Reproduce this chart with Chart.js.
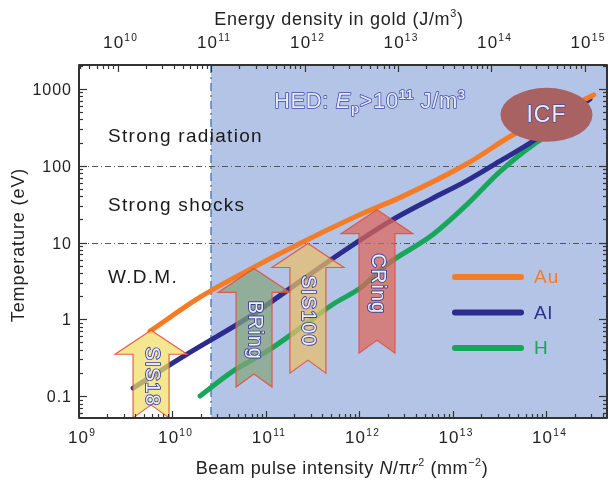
<!DOCTYPE html>
<html>
<head>
<meta charset="utf-8">
<script src="https://cdn.jsdelivr.net/npm/chart.js@4.4.1/dist/chart.umd.min.js"></script>
<style>
  html, body { margin: 0; padding: 0; background: #fff; }
  #wrap { width: 612px; height: 481px; position: relative; }
</style>
</head>
<body>
<div id="wrap"><canvas id="chart"></canvas></div>
<script>
// curves: beam pulse intensity (mm^-2) vs temperature (eV)
const auIntensity = [5.75e9, 1.95e10, 6.8e10, 2.3e11, 1.2e12, 2.71e12, 1.41e13, 4.39e13, 3.2e14];
const auTemp = [0.70, 1.93, 4.5, 9.7, 25.3, 38.4, 106, 253, 836];

const alIntensity = [3.8e9, 1.43e10, 6.75e10, 2.31e11, 6.67e11, 2.2e12, 5.9e12, 1.35e13, 3.1e13, 7.2e13, 2.92e14];
const alTemp = [0.127, 0.351, 1.09, 3.12, 7.64, 19.4, 37, 62, 113, 210, 741];

const hIntensity = [1.97e10, 4.44e10, 1.03e11, 2.31e11, 5.21e11, 1.01e12, 1.97e12, 6.11e12, 1.41e13, 3.18e13, 7.18e13, 1.23e14];
const hTemp = [0.100, 0.211, 0.384, 0.764, 1.57, 2.53, 5.18, 12.7, 31.2, 83.6, 187, 277];

// tick labels
const intensityTicks = [1e9, 1e10, 1e11, 1e12, 1e13, 1e14];
const energyTicks = [1e10, 1e11, 1e12, 1e13, 1e14, 1e15];
const tempTicks = [0.1, 1, 10, 100, 1000];

// regimes
const regimeBounds = [10, 100];            // eV
const regimeNames = ['Strong radiation', 'Strong shocks', 'W.D.M.'];
const hedThreshold = 1e11;                 // J/m^3, top axis

// facilities (arrows)
const facilityNames = ['SIS18', 'BRing', 'SIS100', 'CRing'];
const facilityIntensity = [5.9e9, 7.45e10, 2.81e11, 1.54e12];
const facilityTopTemp = [0.72, 4.6, 9.7, 26.8];
const facilityBottomTemp = [0.052, 0.131, 0.199, 0.362];
const facilityColors = ['rgba(240,222,100,0.72)', 'rgba(133,163,124,0.72)', 'rgba(234,190,106,0.72)', 'rgba(223,101,89,0.72)'];

const icfIntensity = 1.0e14;
const icfTemp = 460;

const FONT = '"Liberation Sans", Arial, sans-serif';

function toPoints(xs, ys) {
    return xs.map(function (x, i) { return { x: x, y: ys[i] }; });
}

// draw a line of text made of runs (normal / italic / bold / sup / sub)
function drawRuns(ctx, runs, x, baseline, size, align, fill, stroke, ls) {
    ctx.letterSpacing = (ls || 0) + 'px';
    const parts = runs.map(function (r) {
        const sz = r.s ? size * 0.6 : size;
        const font = (r.i ? 'italic ' : '') + (r.b ? 'bold ' : '') + sz + 'px ' + FONT;
        ctx.font = font;
        return { t: r.t, font: font, w: ctx.measureText(r.t).width, dy: r.s === 'sup' ? -size * 0.42 : (r.s === 'sub' ? size * 0.22 : 0) };
    });
    const total = parts.reduce(function (a, p) { return a + p.w; }, 0);
    let cx = align === 'center' ? x - total / 2 : (align === 'right' ? x - total : x);
    ctx.textAlign = 'left';
    ctx.textBaseline = 'alphabetic';
    parts.forEach(function (p) {
        ctx.font = p.font;
        if (stroke) {
            ctx.lineWidth = 1.5;
            ctx.strokeStyle = stroke;
            ctx.lineJoin = 'round';
            ctx.strokeText(p.t, cx, baseline + p.dy);
        }
        ctx.fillStyle = fill;
        ctx.fillText(p.t, cx, baseline + p.dy);
        cx += p.w;
    });
    ctx.letterSpacing = '0px';
}

function powRuns(v) {
    return [{ t: '10' }, { t: String(Math.round(Math.log10(v))), s: 'sup' }];
}

function logTicks(min, max) {
    const out = [];
    for (let d = Math.floor(Math.log10(min)); d <= Math.ceil(Math.log10(max)); d++) {
        for (let m = 1; m <= 9; m++) {
            const v = m * Math.pow(10, d);
            if (v >= min * 0.999 && v <= max * 1.001) out.push({ v: v, major: m === 1 });
        }
    }
    return out;
}

const decorPlugin = {
    id: 'decor',
    beforeDatasetsDraw: function (chart) {
        const ctx = chart.ctx;
        const a = chart.chartArea;
        const x2 = chart.scales.x2, y = chart.scales.y;
        ctx.save();
        // HED region
        const hx = x2.getPixelForValue(hedThreshold);
        ctx.fillStyle = '#b3c4e6';
        ctx.fillRect(hx, a.top, a.right - hx, a.bottom - a.top);
        // regime lines
        ctx.strokeStyle = '#555';
        ctx.lineWidth = 1;
        ctx.setLineDash([6, 3, 1, 3]);
        regimeBounds.forEach(function (t) {
            const py = Math.round(y.getPixelForValue(t)) + 0.5;
            ctx.beginPath(); ctx.moveTo(a.left, py); ctx.lineTo(a.right, py); ctx.stroke();
        });
        // HED boundary
        ctx.strokeStyle = '#5a86bb';
        ctx.lineWidth = 1.6;
        ctx.setLineDash([8, 4, 2, 4]);
        ctx.beginPath(); ctx.moveTo(hx, a.top); ctx.lineTo(hx, a.bottom); ctx.stroke();
        ctx.setLineDash([]);
        // regime names
        const lx = a.left + 29;
        drawRuns(ctx, [{ t: regimeNames[0] }], lx, a.top + 77, 19, 'left', '#1a1a1a', null, 1.3);
        drawRuns(ctx, [{ t: regimeNames[1] }], lx, a.top + 146, 19, 'left', '#1a1a1a', null, 1.3);
        drawRuns(ctx, [{ t: regimeNames[2] }], lx, a.top + 218, 19, 'left', '#1a1a1a', null, 1.3);
        ctx.restore();
    },
    afterDatasetsDraw: function (chart) {
        const ctx = chart.ctx;
        const a = chart.chartArea;
        const x = chart.scales.x, x2 = chart.scales.x2, y = chart.scales.y;
        ctx.save();

        // facility arrows
        facilityNames.forEach(function (name, i) {
            const cx = x.getPixelForValue(facilityIntensity[i]);
            const tip = y.getPixelForValue(facilityTopTemp[i]);
            const bot = y.getPixelForValue(facilityBottomTemp[i]);
            const hw = 36, sw = 18, hl = 24, nd = 13;
            const base = tip + hl;
            ctx.beginPath();
            ctx.moveTo(cx, tip);
            ctx.lineTo(cx + hw, base);
            ctx.lineTo(cx + sw, base);
            ctx.lineTo(cx + sw, bot);
            ctx.lineTo(cx, bot - nd);
            ctx.lineTo(cx - sw, bot);
            ctx.lineTo(cx - sw, base);
            ctx.lineTo(cx - hw, base);
            ctx.closePath();
            ctx.fillStyle = facilityColors[i];
            ctx.fill();
            ctx.strokeStyle = 'rgba(228,80,60,0.9)';
            ctx.lineWidth = 1.2;
            ctx.stroke();
            // rotated label
            ctx.save();
            ctx.translate(cx, (base + bot - nd) / 2 - 3);
            ctx.rotate(Math.PI / 2);
            ctx.letterSpacing = '1px';
            ctx.font = '20px ' + FONT;
            ctx.textAlign = 'center';
            ctx.textBaseline = 'middle';
            ctx.lineWidth = 1.8;
            ctx.lineJoin = 'round';
            ctx.strokeStyle = '#3a3f9c';
            ctx.strokeText(name, 0, 0);
            ctx.fillStyle = '#eef0fa';
            ctx.fillText(name, 0, 0);
            ctx.restore();
        });

        // ICF ellipse
        const ex = x.getPixelForValue(icfIntensity), ey = y.getPixelForValue(icfTemp);
        ctx.beginPath();
        ctx.ellipse(ex, ey, 46, 27, 0, 0, Math.PI * 2);
        ctx.fillStyle = 'rgb(168,98,98)';
        ctx.fill();
        ctx.font = '23px ' + FONT;
        ctx.letterSpacing = '1px';
        ctx.textAlign = 'center';
        ctx.textBaseline = 'middle';
        ctx.lineWidth = 1.4;
        ctx.lineJoin = 'round';
        ctx.strokeStyle = '#3e4aa0';
        ctx.strokeText('ICF', ex, ey + 1);
        ctx.fillStyle = '#f1eaf4';
        ctx.fillText('ICF', ex, ey + 1);
        ctx.letterSpacing = '0px';

        // HED label
        drawRuns(ctx, [
            { t: 'HED: ' }, { t: 'E', i: true }, { t: 'p', s: 'sub', b: true },
            { t: '>10' }, { t: '11', s: 'sup', b: true }, { t: ' J/m' }, { t: '3', s: 'sup', b: true }
        ], a.left + 195, a.top + 43, 22, 'left', '#e6ebf8', '#4048a8', 0.6);

        // legend
        chart.data.datasets.forEach(function (ds, i) {
            const ly = a.top + 212 + i * 35.5;
            ctx.strokeStyle = ds.borderColor;
            ctx.lineWidth = 6;
            ctx.lineCap = 'round';
            ctx.beginPath(); ctx.moveTo(a.left + 376, ly); ctx.lineTo(a.left + 442, ly); ctx.stroke();
            ctx.fillStyle = ds.borderColor;
            ctx.font = '19px ' + FONT;
            ctx.letterSpacing = '1px';
            ctx.textAlign = 'left';
            ctx.textBaseline = 'middle';
            ctx.fillText(ds.label, a.left + 455, ly + 1);
            ctx.letterSpacing = '0px';
        });
        ctx.lineCap = 'butt';

        // frame
        ctx.strokeStyle = '#333';
        ctx.lineWidth = 2;
        ctx.strokeRect(a.left, a.top, a.right - a.left, a.bottom - a.top);

        // inward ticks
        ctx.lineWidth = 1.2;
        logTicks(x.min, x.max).forEach(function (t) {
            const px = Math.round(x.getPixelForValue(t.v)) + 0.5;
            const L = t.major ? 7 : 4;
            ctx.beginPath(); ctx.moveTo(px, a.bottom); ctx.lineTo(px, a.bottom - L); ctx.stroke();
        });
        logTicks(x2.min, x2.max).forEach(function (t) {
            const px = Math.round(x2.getPixelForValue(t.v)) + 0.5;
            const L = t.major ? 7 : 4;
            ctx.beginPath(); ctx.moveTo(px, a.top); ctx.lineTo(px, a.top + L); ctx.stroke();
        });
        logTicks(y.min, y.max).forEach(function (t) {
            const py = Math.round(y.getPixelForValue(t.v)) + 0.5;
            const L = t.major ? 8 : 4;
            ctx.beginPath(); ctx.moveTo(a.left, py); ctx.lineTo(a.left + L, py); ctx.stroke();
            ctx.beginPath(); ctx.moveTo(a.right, py); ctx.lineTo(a.right - L, py); ctx.stroke();
        });

        // tick labels
        intensityTicks.forEach(function (v) {
            drawRuns(ctx, powRuns(v), x.getPixelForValue(v) + 3, a.bottom + 25, 17, 'center', '#222', null, 1.2);
        });
        energyTicks.forEach(function (v) {
            drawRuns(ctx, powRuns(v), x2.getPixelForValue(v) + 3, a.top - 17, 17, 'center', '#222', null, 1.2);
        });
        tempTicks.forEach(function (v) {
            drawRuns(ctx, [{ t: String(v) }], a.left - 7, y.getPixelForValue(v) + 6, 16, 'right', '#222', null, 1);
        });

        // axis titles
        drawRuns(ctx, [
            { t: 'Beam pulse intensity ' }, { t: 'N', i: true }, { t: '/\u03c0' }, { t: 'r', i: true },
            { t: '2', s: 'sup' }, { t: ' (mm' }, { t: '\u22122', s: 'sup' }, { t: ')' }
        ], (a.left + a.right) / 2 - 1, a.bottom + 56, 18, 'center', '#222', null, 0.6);
        drawRuns(ctx, [
            { t: 'Energy density in gold (J/m' }, { t: '3', s: 'sup' }, { t: ')' }
        ], (a.left + a.right) / 2 - 4, a.top - 40, 18, 'center', '#222', null, 0.7);
        ctx.save();
        ctx.translate(24, 245);
        ctx.rotate(-Math.PI / 2);
        drawRuns(ctx, [{ t: 'Temperature (eV)' }], 0, 0, 18, 'center', '#222', null, 0.9);
        ctx.restore();

        ctx.restore();
    }
};

document.addEventListener('DOMContentLoaded', function () {
    const ctx = document.getElementById('chart').getContext('2d');

    function line(label, color, xs, ys) {
        return {
            label: label,
            data: toPoints(xs, ys),
            borderColor: color,
            backgroundColor: color,
            borderWidth: 5,
            pointRadius: 0,
            borderCapStyle: 'round',
            cubicInterpolationMode: 'monotone',
            fill: false
        };
    }

    new Chart(ctx, {
        type: 'line',
        data: {
            datasets: [
                line('Au', 'rgb(245,124,38)', auIntensity, auTemp),
                line('Al', 'rgb(44,43,142)', alIntensity, alTemp),
                line('H', 'rgb(24,166,90)', hIntensity, hTemp)
            ]
        },
        options: {
            responsive: true,
            maintainAspectRatio: false,
            animation: false,
            layout: { padding: { left: 79, top: 65, right: 5, bottom: 63 } },
            plugins: {
                legend: { display: false },
                tooltip: { enabled: false }
            },
            scales: {
                x: { type: 'logarithmic', position: 'bottom', min: 1e9, max: 4.44e14, display: false },
                x2: { type: 'logarithmic', position: 'top', min: 3.87e9, max: 1.72e15, display: false },
                y: { type: 'logarithmic', min: 0.0518, max: 2050, display: false }
            }
        },
        plugins: [decorPlugin]
    });
});
</script>
</body>
</html>
